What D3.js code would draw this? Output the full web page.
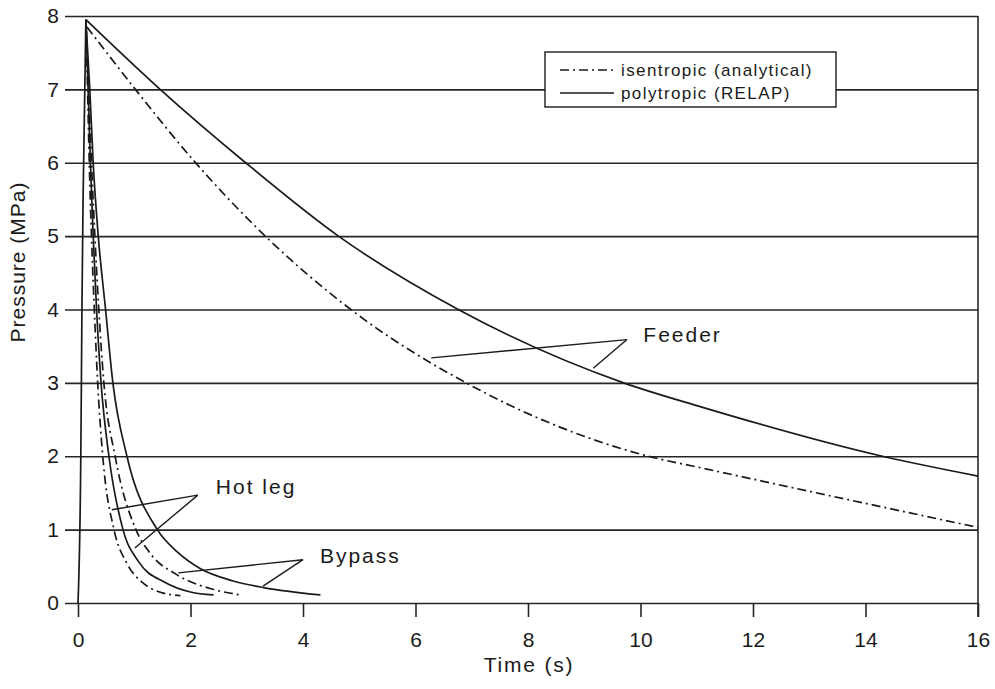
<!DOCTYPE html>
<html>
<head>
<meta charset="utf-8">
<script src="https://cdn.jsdelivr.net/npm/d3@7/dist/d3.min.js"></script>
<style>
  html, body { margin: 0; padding: 0; background: #fff; }
  svg { display: block; }
  text { font-family: "Liberation Sans", Arial, sans-serif; fill: #1a1a1a; }
</style>
</head>
<body>
<svg id="chart" width="995" height="689"></svg>
<script>
// ---------- data ----------
const xTicks = [0, 2, 4, 6, 8, 10, 12, 14, 16];
const yTicks = [0, 1, 2, 3, 4, 5, 6, 7, 8];

// Feeder
const feederPoly = [[0.14,7.95],[1.46,7],[2.98,6],[4.63,5],[6.76,4],[9.70,3],[11.09,2.67],[14.3,2],[16,1.73]];
const feederIsen = [[0.16,7.85],[1.02,7],[2.09,6],[3.33,5],[4.85,4],[6.90,3],[10.14,2],[11.09,1.84],[16,1.03]];
// Hot leg
const hotIsen = [[0.14,7.95],[0.17,7],[0.20,6],[0.24,5],[0.29,4],[0.35,3],[0.44,2],[0.64,1],[0.87,0.54],[1.16,0.27],[1.45,0.15],[1.82,0.10]];
const hotPoly = [[0.14,7.95],[0.18,7],[0.22,6],[0.27,5],[0.33,4],[0.41,3],[0.55,2],[0.80,1],[1.08,0.56],[1.55,0.28],[2.0,0.15],[2.41,0.11]];
// Bypass
const bypIsen = [[0.14,7.95],[0.19,7],[0.24,6],[0.30,5],[0.37,4],[0.46,3],[0.66,2],[1.03,1],[1.28,0.68],[1.77,0.38],[2.38,0.19],[2.89,0.11]];
const bypPoly = [[0.14,7.95],[0.21,7],[0.27,6],[0.36,5],[0.49,4],[0.62,3],[0.87,2],[1.41,1],[1.76,0.7],[2.17,0.47],[2.76,0.3],[3.3,0.21],[4.31,0.11]];
// initial rise line near the axis
const initial = [[0,0],[0.05,2],[0.07,4],[0.09,5.5],[0.14,7.95]];

const legendLabels = ["isentropic (analytical)", "polytropic (RELAP)"];
const annotations = [
  {text: "Feeder", at: [10.05, 3.66], from: [9.76, 3.59], to: [[6.28, 3.34], [9.16, 3.2]]},
  {text: "Hot leg", at: [2.45, 1.58], from: [2.13, 1.47], to: [[0.6, 1.27], [1.01, 0.75]]},
  {text: "Bypass", at: [4.3, 0.65], from: [4.0, 0.59], to: [[1.78, 0.41], [3.29, 0.23]]}
];

// ---------- layout ----------
const svg = d3.select("#chart");
const x = d3.scaleLinear().domain([0, 16]).range([78, 978]);
const y = d3.scaleLinear().domain([0, 8]).range([603, 16]);
const ink = "#1a1a1a";
const dashDot = "9,4,2,4";

// y gridlines via axis
const yAxis = d3.axisLeft(y).tickValues(yTicks).tickSize(-(978 - 65)).tickPadding(6).tickFormat(d3.format("d"));
const gy = svg.append("g").attr("transform", "translate(65,0)").call(yAxis);
gy.select(".domain").remove();
gy.selectAll("line").attr("stroke", "#262626").attr("stroke-width", 1.6);
gy.selectAll("text").attr("font-size", 21).style("fill", ink);

// x axis ticks
const xAxis = d3.axisBottom(x).tickValues(xTicks).tickSize(14).tickPadding(15).tickFormat(d3.format("d"));
const gx = svg.append("g").attr("transform", "translate(0,603)").call(xAxis);
gx.select(".domain").remove();
gx.selectAll("line").attr("stroke", "#262626").attr("stroke-width", 1.6);
gx.selectAll("text").attr("font-size", 21).style("fill", ink);

// right frame
svg.append("line").attr("x1", x(16)).attr("x2", x(16)).attr("y1", y(8)).attr("y2", y(0) + 14)
  .attr("stroke", "#262626").attr("stroke-width", 1.6);

// axis titles
svg.append("text").attr("x", 529).attr("y", 672).attr("text-anchor", "middle")
  .attr("font-size", 21).attr("letter-spacing", 1.8).text("Time (s)");
svg.append("text").attr("transform", "translate(25,262) rotate(-90)").attr("text-anchor", "middle")
  .attr("font-size", 21).attr("letter-spacing", 1.0).text("Pressure (MPa)");

// curves
const line = d3.line().x(d => x(d[0])).y(d => y(d[1])).curve(d3.curveMonotoneX);
const series = [
  {data: initial, dash: null},
  {data: feederPoly, dash: null},
  {data: feederIsen, dash: dashDot},
  {data: hotIsen, dash: dashDot},
  {data: hotPoly, dash: null},
  {data: bypIsen, dash: dashDot},
  {data: bypPoly, dash: null}
];
svg.append("g").selectAll("path").data(series).join("path")
  .attr("d", d => line(d.data))
  .attr("fill", "none").attr("stroke", ink).attr("stroke-width", 1.7)
  .attr("stroke-dasharray", d => d.dash);

// annotations
annotations.forEach(a => {
  svg.append("text").attr("x", x(a.at[0])).attr("y", y(a.at[1])).attr("dy", "0.35em")
    .attr("font-size", 21).attr("letter-spacing", 2).text(a.text);
  a.to.forEach(t => {
    svg.append("line").attr("x1", x(a.from[0])).attr("y1", y(a.from[1]))
      .attr("x2", x(t[0])).attr("y2", y(t[1])).attr("stroke", ink).attr("stroke-width", 1.4);
  });
});

// legend
const lg = svg.append("g");
lg.append("rect").attr("x", 545).attr("y", 52).attr("width", 291).attr("height", 55)
  .attr("fill", "#fff").attr("stroke", ink).attr("stroke-width", 1.4);
legendLabels.forEach((lab, i) => {
  const yy = 70 + i * 23;
  lg.append("line").attr("x1", 560).attr("x2", 614).attr("y1", yy).attr("y2", yy)
    .attr("stroke", ink).attr("stroke-width", 1.3).attr("stroke-dasharray", i === 0 ? dashDot : null);
  lg.append("text").attr("x", 621).attr("y", yy).attr("dy", "0.35em")
    .attr("font-size", 17).attr("letter-spacing", 1.4).text(lab);
});
</script>
</body>
</html>
